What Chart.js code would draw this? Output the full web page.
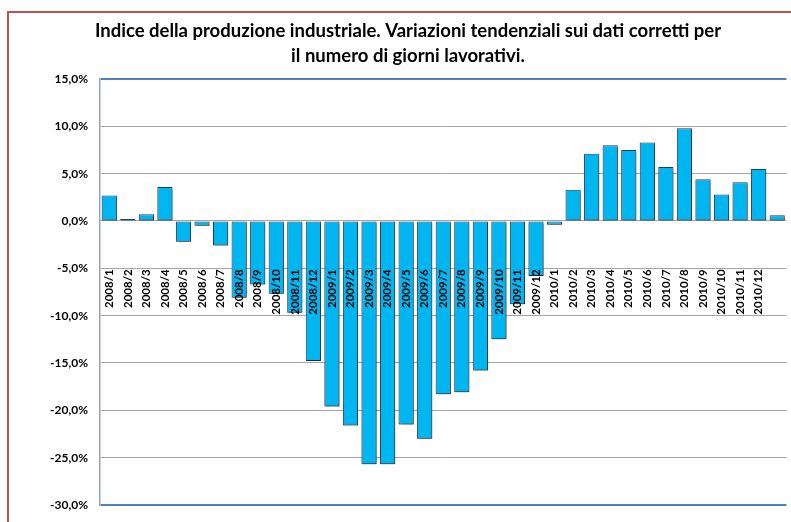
<!DOCTYPE html>
<html lang="it">
<head>
<meta charset="utf-8">
<title>Indice della produzione industriale</title>
<script src="https://cdn.jsdelivr.net/npm/chart.js@4.4.1/dist/chart.umd.min.js"></script>
<style>
  html, body { margin: 0; padding: 0; background: #fff; width: 791px; height: 522px; overflow: hidden; }
  #cornice { position: absolute; left: 7px; top: 11px; width: 830px; height: 580px; border: 2px solid #c0504d; }
  #grafico { position: absolute; left: 15px; top: 0; }
</style>
</head>
<body>
<div id="cornice"><canvas id="grafico" width="768" height="520"></canvas></div>
<script>
// ----------------------
// DATI
// ----------------------
const mesi = [
  '2008/1', '2008/2', '2008/3', '2008/4', '2008/5', '2008/6',
  '2008/7', '2008/8', '2008/9', '2008/10', '2008/11', '2008/12',
  '2009/1', '2009/2', '2009/3', '2009/4', '2009/5', '2009/6',
  '2009/7', '2009/8', '2009/9', '2009/10', '2009/11', '2009/12',
  '2010/1', '2010/2', '2010/3', '2010/4', '2010/5', '2010/6',
  '2010/7', '2010/8', '2010/9', '2010/10', '2010/11', '2010/12',
  ''
];

const variazioni = [
  2.7, 0.2, 0.7, 3.6, -2.2, -0.5,
  -2.6, -8.1, -6.7, -7.7, -9.7, -14.8,
  -19.6, -21.6, -25.7, -25.7, -21.5, -23.0,
  -18.3, -18.1, -15.8, -12.5, -8.8, -5.8,
  -0.4, 3.3, 7.1, 8.0, 7.5, 8.3,
  5.7, 9.8, 4.4, 2.8, 4.1, 5.5,
  0.6
];

const valoriAsseY = [15, 10, 5, 0, -5, -10, -15, -20, -25, -30];

const titolo = [
  'Indice della produzione industriale. Variazioni tendenziali sui dati corretti per',
  'il numero di giorni lavorativi.'
];

// ombra sotto le barre, come nel foglio originale
const ombra = {
  id: 'ombra',
  beforeDatasetsDraw(chart) {
    const c = chart.ctx;
    c.save();
    c.shadowColor = 'rgba(0,0,0,0.4)';
    c.shadowBlur = 2;
    c.shadowOffsetX = 1;
    c.shadowOffsetY = 2;
  },
  afterDatasetsDraw(chart) {
    chart.ctx.restore();
  }
};

const font = 'Lato, "Open Sans", sans-serif';
const bordi = v => v === 15 || v === -30;

new Chart(document.getElementById('grafico'), {
  type: 'bar',
  data: {
    labels: mesi,
    datasets: [{
      data: variazioni,
      backgroundColor: '#00b6f0',
      borderColor: '#1f3f60',
      borderWidth: 1,
      borderSkipped: false,
      barPercentage: 0.82,
      categoryPercentage: 1
    }]
  },
  options: {
    responsive: false,
    animation: false,
    layout: { padding: { top: 0, right: 0, bottom: 28, left: 0 } },
    plugins: {
      legend: { display: false },
      tooltip: { enabled: false },
      title: {
        display: true,
        text: titolo,
        color: '#000',
        font: { family: font, size: 18.5, weight: 'bold', lineHeight: 1.35 },
        padding: { top: 6, bottom: 10 }
      }
    },
    scales: {
      x: {
        position: { y: -5 },
        grid: { display: false, drawTicks: false },
        border: { display: false },
        ticks: {
          z: 1,
          autoSkip: false,
          minRotation: 90,
          maxRotation: 90,
          padding: 1,
          color: '#000',
          font: { family: font, size: 11.5, weight: 'bold' }
        },
        afterFit: s => { s.height = 0; }
      },
      y: {
        min: -30,
        max: 15,
        afterBuildTicks: s => { s.ticks = valoriAsseY.map(v => ({ value: v })); },
        ticks: {
          padding: 12,
          color: '#000',
          font: { family: font, size: 12, weight: 'bold' },
          callback: v => v.toFixed(1).replace('.', ',') + '%'
        },
        grid: {
          drawTicks: false,
          color: ctx => bordi(ctx.tick.value) ? '#4f81bd' : '#a5a5a5',
          lineWidth: ctx => bordi(ctx.tick.value) ? 2 : 1
        },
        border: { color: '#8ea5c8', width: 1.5 },
        afterFit: s => { s.width = 76; }
      }
    }
  },
  plugins: [ombra]
});
</script>
</body>
</html>
